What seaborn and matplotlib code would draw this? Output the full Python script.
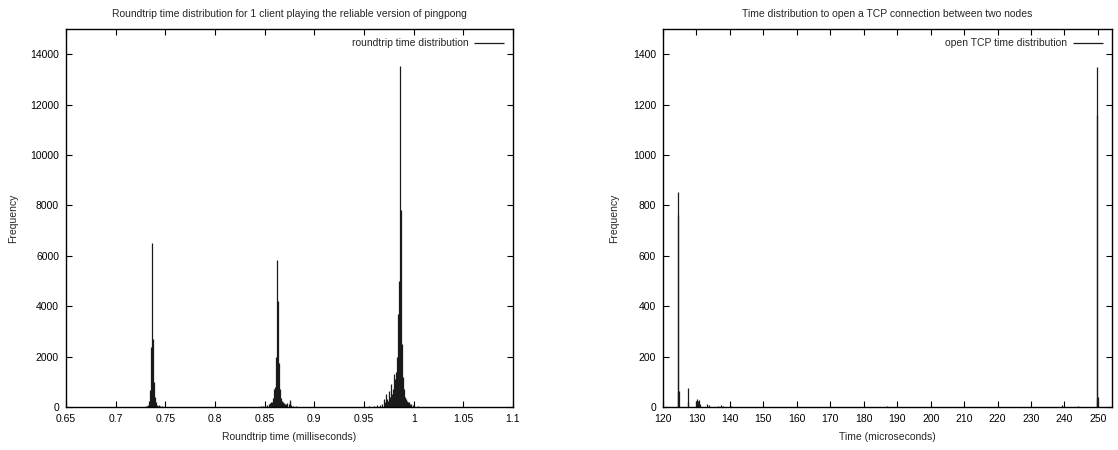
import matplotlib
matplotlib.use("Agg")
import matplotlib.pyplot as plt
import seaborn as sns
import pandas as pd

# Roundtrip histogram (1 microsecond bins), values in milliseconds
rt_time_ms = [
    0.731, 0.732, 0.733, 0.734, 0.735, 0.736, 0.737, 0.738, 0.739, 0.740,
    0.741, 0.742, 0.743, 0.744, 0.745, 0.747, 0.750,
    0.846, 0.848, 0.850, 0.852, 0.854, 0.855, 0.856, 0.857, 0.858, 0.859,
    0.860, 0.861, 0.862, 0.863, 0.864, 0.865, 0.866, 0.867, 0.868, 0.869,
    0.870, 0.871, 0.872, 0.874, 0.875, 0.876, 0.877, 0.879, 0.882,
    0.955, 0.960, 0.963, 0.966, 0.968, 0.970, 0.971, 0.972, 0.973, 0.974,
    0.975, 0.976, 0.977, 0.978, 0.979, 0.980, 0.981, 0.982, 0.983, 0.984,
    0.985, 0.986, 0.987, 0.988, 0.989, 0.990, 0.991, 0.992, 0.993, 0.994,
    0.995, 0.996, 0.997, 0.999, 1.004, 1.010,
]
rt_count = [
    20, 40, 90, 250, 670, 2400, 6500, 2700, 1000, 400,
    180, 90, 50, 60, 30, 20, 15,
    20, 40, 60, 90, 120, 150, 200, 180, 350, 700,
    800, 2000, 5850, 4200, 1750, 700, 350, 250, 200, 150,
    120, 100, 150, 120, 280, 200, 80, 40, 20,
    20, 40, 60, 80, 100, 300, 200, 500, 300, 250,
    650, 400, 900, 500, 700, 1300, 1100, 1400, 2000, 3700,
    5000, 13550, 7800, 2500, 1200, 700, 400, 300, 250, 200,
    180, 120, 100, 60, 30, 10,
]

# TCP connection-open histogram, values in microseconds
tcp_time_us = [
    124.4, 124.5, 124.6, 124.8, 127.4, 127.6,
    129.8, 130.2, 130.5, 130.9, 131.2, 133.3, 133.6,
    136.5, 137.2, 138.0, 140.3, 187.0, 239.3, 244.0,
    249.6, 249.7, 249.8, 249.9,
]
tcp_count = [
    60, 760, 855, 65, 75, 20,
    25, 30, 22, 28, 12, 12, 8,
    5, 6, 4, 5, 4, 6, 3,
    30, 1160, 1350, 40,
]

rt_xticks = [0.65, 0.7, 0.75, 0.8, 0.85, 0.9, 0.95, 1.0, 1.05, 1.1]
rt_xticklabels = ["0.65", "0.7", "0.75", "0.8", "0.85", "0.9", "0.95", "1", "1.05", "1.1"]
rt_yticks = [0, 2000, 4000, 6000, 8000, 10000, 12000, 14000]
tcp_xticks = [120, 130, 140, 150, 160, 170, 180, 190, 200, 210, 220, 230, 240, 250]
tcp_yticks = [0, 200, 400, 600, 800, 1000, 1200, 1400]

rt = pd.DataFrame({"time": rt_time_ms, "freq": rt_count})
tcp = pd.DataFrame({"time": tcp_time_us, "freq": tcp_count})

sns.set_theme(style="ticks")
plt.rcParams["font.family"] = ["Liberation Sans", "DejaVu Sans"]
plt.rcParams["font.size"] = 7.5

W, H = 1118, 450
fig = plt.figure(figsize=(W / 100, H / 100), dpi=100)
ax1 = fig.add_axes([66 / W, 43 / H, 447 / W, 378 / H])
ax2 = fig.add_axes([663 / W, 43 / H, 449 / W, 378 / H])


def impulses(ax, df, label):
    ax.vlines(df["time"], 0, df["freq"], colors="#1a1a1a", linewidth=0.9, label=label)


def style(ax, xlim, ylim, xticks, yticks, xlabels, title, xlabel, ylab_x):
    ax.set_xlim(*xlim)
    ax.set_ylim(*ylim)
    ax.set_xticks(xticks)
    if xlabels is not None:
        ax.set_xticklabels(xlabels)
    ax.set_yticks(yticks)
    ax.tick_params(direction="in", length=4, width=0.8, top=True, right=True,
                   labelsize=7.5, colors="black", pad=5)
    for sp in ax.spines.values():
        sp.set_color("black")
        sp.set_linewidth(1.0)
    ax.set_title(title, fontsize=7.5, pad=9)
    ax.set_xlabel(xlabel, fontsize=7.5)
    ax.set_ylabel("Frequency", fontsize=7.5)
    ax.xaxis.set_label_coords(0.5, -0.066)
    ax.yaxis.set_label_coords(ylab_x, 0.5)
    ax.legend(loc="upper right", frameon=False, markerfirst=False,
              handlelength=2.8, handletextpad=0.6, fontsize=7.5,
              borderaxespad=0.5)


impulses(ax1, rt, "roundtrip time distribution")
style(ax1, (0.65, 1.1), (0, 15000), rt_xticks, rt_yticks, rt_xticklabels,
      "Roundtrip time distribution for 1 client playing the reliable version of pingpong",
      "Roundtrip time (milliseconds)", -0.107)

impulses(ax2, tcp, "open TCP time distribution")
style(ax2, (120, 254.2), (0, 1500), tcp_xticks, tcp_yticks, None,
      "Time distribution to open a TCP connection between two nodes",
      "Time (microseconds)", -0.098)

fig.savefig("out.png", dpi=100)
